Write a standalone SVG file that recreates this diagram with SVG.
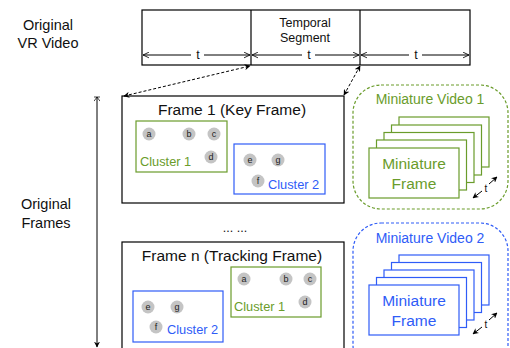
<svg xmlns="http://www.w3.org/2000/svg" width="510" height="348" viewBox="0 0 510 348">
<defs>
<marker id="open" viewBox="0 0 10 10" refX="9.5" refY="5" markerWidth="7" markerHeight="7" orient="auto-start-reverse" markerUnits="userSpaceOnUse">
<path d="M1,1 L9.5,5 L1,9" fill="none" stroke="#000" stroke-width="1.2"/>
</marker>
<marker id="solid" viewBox="0 0 10 10" refX="9" refY="5" markerWidth="6" markerHeight="6" orient="auto-start-reverse" markerUnits="userSpaceOnUse">
<path d="M0,0 L10,5 L0,10 L3,5 Z" fill="#000"/>
</marker>
<marker id="tick" viewBox="0 0 10 10" refX="9" refY="5" markerWidth="6" markerHeight="6" orient="auto-start-reverse" markerUnits="userSpaceOnUse">
<path d="M2,0 L9,5 L2,10 M9,0 L9,10" fill="none" stroke="#000" stroke-width="1.2"/>
</marker>
</defs>
<style>
text{font-family:"Liberation Sans",Arial,sans-serif;fill:#111;}
.lbl{font-size:14.5px;text-anchor:middle;}
.ttl{font-size:15.5px;text-anchor:middle;}
.sm{font-size:12.5px;text-anchor:middle;}
.frame{fill:#fff;stroke:#000;stroke-width:1.2;}
.g{stroke:#6a9c2b;fill:none;stroke-width:1.2;}
.b{stroke:#2f5cf7;fill:none;stroke-width:1.2;}
.gt{fill:#6a9c2b;}
.bt{fill:#2f5cf7;}
.cl{font-size:12.8px;}
.dot{fill:#c4c4c4;}
.dl{font-size:9px;text-anchor:middle;fill:#222;}
.mg{fill:#fff;stroke:#6a9c2b;stroke-width:1.2;}
.mb{fill:#fff;stroke:#2f5cf7;stroke-width:1.2;}
.conn{stroke:#000;fill:none;stroke-width:1;}
</style>

<g id="label-vr">
<text class="lbl" x="48" y="30">Original</text>
<text class="lbl" x="48" y="48">VR Video</text>
</g>
<g id="label-frames">
<text class="lbl" x="46" y="209">Original</text>
<text class="lbl" x="46" y="228">Frames</text>
</g>

<g id="vr-video">
<rect x="142" y="10" width="328" height="55" fill="#fff" stroke="#000" stroke-width="1.2"/>
<line x1="251" y1="10" x2="251" y2="65" stroke="#000" stroke-width="1.2"/>
<line x1="360" y1="10" x2="360" y2="65" stroke="#000" stroke-width="1.2"/>
<text class="sm" x="305" y="27">Temporal</text>
<text class="sm" x="305" y="42">Segment</text>
<line class="conn" x1="143" y1="55" x2="191" y2="55" marker-start="url(#open)"/>
<line class="conn" x1="204" y1="55" x2="250" y2="55" marker-end="url(#open)"/>
<text class="sm" x="198" y="59" font-size="11">t</text>
<line class="conn" x1="252" y1="55" x2="302" y2="55" marker-start="url(#open)"/>
<line class="conn" x1="315" y1="55" x2="359" y2="55" marker-end="url(#open)"/>
<text class="sm" x="309" y="59" font-size="11">t</text>
<line class="conn" x1="361" y1="55" x2="409" y2="55" marker-start="url(#open)"/>
<line class="conn" x1="422" y1="55" x2="469" y2="55" marker-end="url(#open)"/>
<text class="sm" x="416" y="59" font-size="11">t</text>
</g>

<g id="frame-1">
<rect class="frame" x="122" y="96" width="222" height="107"/>
<text class="ttl" x="232" y="115">Frame 1 (Key Frame)</text>
<rect class="g" x="136" y="121" width="91" height="51"/>
<circle class="dot" cx="149" cy="134" r="6.5"/><text class="dl" x="149" y="137">a</text>
<circle class="dot" cx="189" cy="134" r="6.5"/><text class="dl" x="189" y="137">b</text>
<circle class="dot" cx="214" cy="134" r="6.5"/><text class="dl" x="214" y="137">c</text>
<circle class="dot" cx="211" cy="157" r="6.5"/><text class="dl" x="211" y="160">d</text>
<text class="gt cl" x="140" y="166">Cluster 1</text>
<rect class="b" x="234" y="144" width="91" height="50"/>
<circle class="dot" cx="250" cy="160" r="6.5"/><text class="dl" x="250" y="163">e</text>
<circle class="dot" cx="278" cy="160" r="6.5"/><text class="dl" x="278" y="163">g</text>
<circle class="dot" cx="258" cy="181" r="6.5"/><text class="dl" x="258" y="184">f</text>
<text class="bt cl" x="268" y="189">Cluster 2</text>
</g>

<g id="ellipsis">
<text class="sm" x="235" y="232" font-size="10">... ...</text>
</g>

<g id="frame-n">
<rect class="frame" x="122" y="242" width="222" height="110"/>
<text class="ttl" x="232" y="261">Frame n (Tracking Frame)</text>
<rect class="g" x="231" y="267" width="90" height="50"/>
<circle class="dot" cx="244" cy="279" r="6.5"/><text class="dl" x="244" y="282">a</text>
<circle class="dot" cx="286" cy="279" r="6.5"/><text class="dl" x="286" y="282">b</text>
<circle class="dot" cx="310" cy="279" r="6.5"/><text class="dl" x="310" y="282">c</text>
<circle class="dot" cx="305" cy="302" r="6.5"/><text class="dl" x="305" y="305">d</text>
<text class="gt cl" x="234" y="311">Cluster 1</text>
<rect class="b" x="133" y="291" width="90" height="51"/>
<circle class="dot" cx="148" cy="307" r="6.5"/><text class="dl" x="148" y="310">e</text>
<circle class="dot" cx="177" cy="307" r="6.5"/><text class="dl" x="177" y="310">g</text>
<circle class="dot" cx="156" cy="327" r="6.5"/><text class="dl" x="156" y="330">f</text>
<text class="bt cl" x="167" y="334">Cluster 2</text>
</g>

<g id="miniature-video-1">
<rect x="353" y="85" width="155" height="124" rx="28" ry="28" fill="none" stroke="#6a9c2b" stroke-width="1.2" stroke-dasharray="3,2"/>
<text class="gt" x="430" y="104" font-size="14" text-anchor="middle">Miniature Video 1</text>
<rect class="mg" x="399" y="117" width="90" height="50"/>
<rect class="mg" x="391.5" y="125" width="90" height="50"/>
<rect class="mg" x="384" y="132.5" width="90" height="50"/>
<rect class="mg" x="376.5" y="140" width="90" height="50"/>
<rect class="mg" x="369" y="148" width="90" height="50"/>
<text class="gt" x="414" y="169" font-size="15.5" text-anchor="middle">Miniature</text>
<text class="gt" x="414" y="189" font-size="15.5" text-anchor="middle">Frame</text>
<line class="conn" x1="482" y1="191" x2="473" y2="198" marker-end="url(#solid)"/>
<line class="conn" x1="489" y1="184" x2="497" y2="177" marker-end="url(#solid)"/>
<text x="486" y="192" font-size="10" text-anchor="middle">t</text>
</g>

<g id="miniature-video-2">
<rect x="353" y="223" width="155" height="150" rx="28" ry="28" fill="none" stroke="#2f5cf7" stroke-width="1.2" stroke-dasharray="3,2"/>
<text class="bt" x="430" y="243" font-size="14" text-anchor="middle">Miniature Video 2</text>
<rect class="mb" x="399" y="255" width="90" height="50"/>
<rect class="mb" x="391.5" y="262.5" width="90" height="50"/>
<rect class="mb" x="384" y="270" width="90" height="50"/>
<rect class="mb" x="376.5" y="277.5" width="90" height="50"/>
<rect class="mb" x="369" y="285" width="90" height="50"/>
<text class="bt" x="414" y="306" font-size="15.5" text-anchor="middle">Miniature</text>
<text class="bt" x="414" y="326" font-size="15.5" text-anchor="middle">Frame</text>
<line class="conn" x1="482" y1="327" x2="473" y2="334" marker-end="url(#solid)"/>
<line class="conn" x1="489" y1="320" x2="497" y2="313" marker-end="url(#solid)"/>
<text x="486" y="328" font-size="10" text-anchor="middle">t</text>
</g>

<g id="connectors">
<line class="conn" x1="124" y1="96" x2="250" y2="66" stroke-dasharray="3,2" marker-start="url(#solid)" marker-end="url(#solid)"/>
<line class="conn" x1="344" y1="95" x2="360" y2="66" stroke-dasharray="3,2" marker-start="url(#solid)" marker-end="url(#solid)"/>
<line class="conn" x1="97" y1="97" x2="97" y2="347" marker-start="url(#tick)" marker-end="url(#solid)"/>
</g>
</svg>
